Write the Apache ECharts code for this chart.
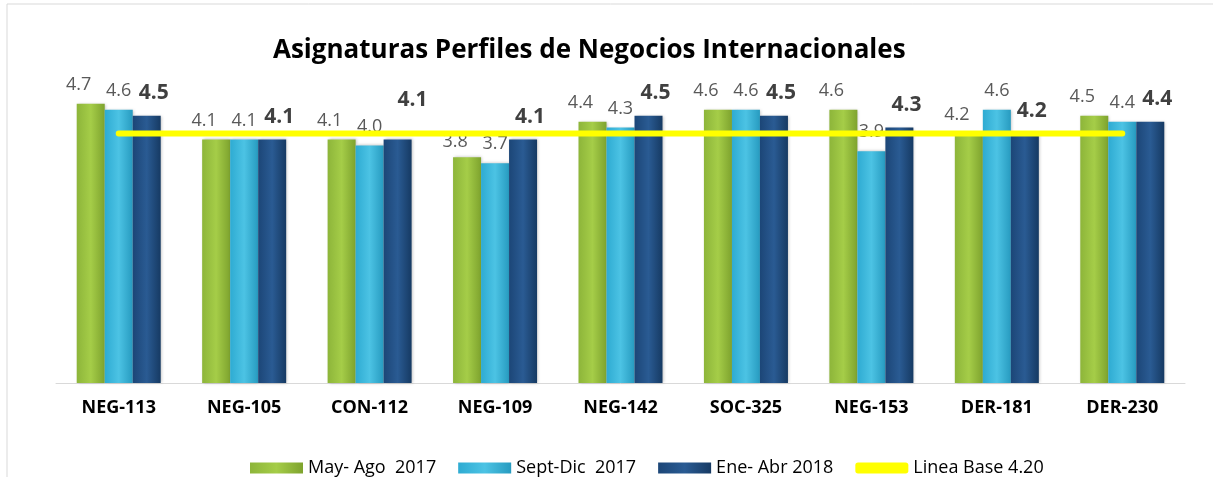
<!DOCTYPE html>
<html>
<head>
<meta charset="utf-8">
<script src="https://cdn.jsdelivr.net/npm/echarts@6/dist/echarts.min.js"></script>
<style>
  html, body { margin: 0; padding: 0; background: #fff; }
  #main { width: 1213px; height: 477px; }
</style>
</head>
<body>
<div id="main"></div>
<script>
// datos
var categorias = ['NEG-113', 'NEG-105', 'CON-112', 'NEG-109', 'NEG-142', 'SOC-325', 'NEG-153', 'DER-181', 'DER-230'];
var mayAgo2017 = [4.7, 4.1, 4.1, 3.8, 4.4, 4.6, 4.6, 4.2, 4.5];
var septDic2017 = [4.6, 4.1, 4.0, 3.7, 4.3, 4.6, 3.9, 4.6, 4.4];
var eneAbr2018 = [4.5, 4.1, 4.1, 4.1, 4.5, 4.5, 4.3, 4.2, 4.4];
var lineaBase = [4.2, 4.2, 4.2, 4.2, 4.2, 4.2, 4.2, 4.2, 4.2];

var fuente = 'Open Sans';

function grad(c1, c2, c3) {
  return new echarts.graphic.LinearGradient(0, 0, 1, 0, [
    { offset: 0, color: c1 },
    { offset: 0.5, color: c2 },
    { offset: 1, color: c3 }
  ]);
}

var verde = grad('#8db53a', '#a5cd48', '#7ea32e');
var celeste = grad('#2eabd2', '#4cc3e4', '#279bc0');
var azul = grad('#1c4677', '#2a5b93', '#163a63');

var chart = echarts.init(document.getElementById('main'));

function fmt(p) { return p.value.toFixed(1); }

function etiqueta(dx) {
  return {
    show: true,
    position: 'top',
    distance: 10,
    offset: [dx, 0],
    fontFamily: fuente,
    fontSize: 18,
    color: '#595959',
    formatter: fmt
  };
}

// etiquetas movidas a mano en el original
var mayData = mayAgo2017.map(function (v, i) {
  if (categorias[i] === 'NEG-109') return { value: v, label: { offset: [-12, 4] } };
  return v;
});
var eneData = eneAbr2018.map(function (v, i) {
  if (categorias[i] === 'CON-112') return { value: v, label: { offset: [15, -17] } };
  return v;
});

var option = {
  animation: false,
  title: {
    text: 'Asignaturas Perfiles de Negocios Internacionales',
    left: 268,
    top: 33,
    textStyle: { fontFamily: fuente, fontSize: 26, fontWeight: 'bold', color: '#000' }
  },
  legend: {
    top: 454,
    left: 245,
    itemWidth: 53,
    itemHeight: 11,
    itemGap: 22,
    textStyle: { fontFamily: fuente, fontSize: 18, color: '#000' },
    data: [
      { name: 'May- Ago  2017', icon: 'rect' },
      { name: 'Sept-Dic  2017', icon: 'rect' },
      { name: 'Ene- Abr 2018', icon: 'rect' },
      { name: 'Linea Base 4.20', icon: 'roundRect' }
    ]
  },
  grid: { left: 56, right: 28, top: 86, bottom: 94 },
  xAxis: {
    type: 'category',
    data: categorias,
    axisLine: { lineStyle: { color: '#d9d9d9', width: 1 } },
    axisTick: { show: false },
    axisLabel: { margin: 16, fontFamily: fuente, fontSize: 18, fontWeight: 'bold', color: '#000' }
  },
  yAxis: {
    type: 'value',
    min: 0,
    max: 5,
    show: false
  },
  graphic: [{
    type: 'rect',
    shape: { x: 7, y: 4, width: 1230, height: 500 },
    style: { fill: 'none', stroke: '#d9d9d9', lineWidth: 1 },
    silent: true
  }],
  series: [
    {
      name: 'May- Ago  2017',
      type: 'bar',
      data: mayData,
      barWidth: 28,
      barGap: '0%',
      itemStyle: { color: verde, shadowColor: 'rgba(0,0,0,0.25)', shadowBlur: 3, shadowOffsetX: 1 },
      label: etiqueta(-12)
    },
    {
      name: 'Sept-Dic  2017',
      type: 'bar',
      data: septDic2017,
      barWidth: 28,
      barGap: '0%',
      itemStyle: { color: celeste, shadowColor: 'rgba(0,0,0,0.25)', shadowBlur: 3, shadowOffsetX: 1 },
      label: etiqueta(0)
    },
    {
      name: 'Ene- Abr 2018',
      type: 'bar',
      data: eneData,
      barWidth: 28,
      barGap: '0%',
      itemStyle: { color: azul, shadowColor: 'rgba(0,0,0,0.25)', shadowBlur: 3, shadowOffsetX: 1 },
      label: {
        show: true,
        position: 'top',
        distance: 12,
        offset: [7, 0],
        fontFamily: fuente,
        fontSize: 21,
        fontWeight: 'bold',
        color: '#404040',
        formatter: fmt
      }
    },
    {
      name: 'Linea Base 4.20',
      type: 'line',
      data: lineaBase,
      symbol: 'none',
      lineStyle: { color: '#ffff00', width: 6, cap: 'round' },
      itemStyle: { color: '#ffff00' }
    }
  ]
};

chart.setOption(option);
</script>
</body>
</html>
